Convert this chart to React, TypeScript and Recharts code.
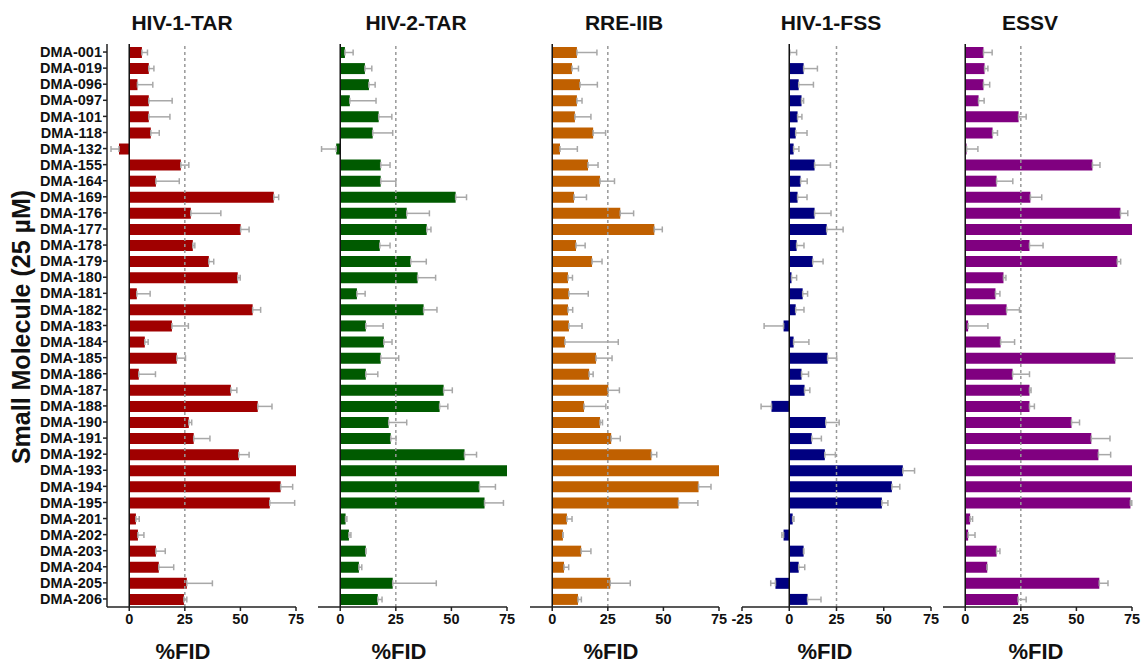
import React from 'react';
import { BarChart, Bar, XAxis, YAxis, ErrorBar, ReferenceLine } from 'recharts';

const molecules = [
  'DMA-001', 'DMA-019', 'DMA-096', 'DMA-097', 'DMA-101', 'DMA-118', 'DMA-132', 'DMA-155', 'DMA-164',
  'DMA-169', 'DMA-176', 'DMA-177', 'DMA-178', 'DMA-179', 'DMA-180', 'DMA-181', 'DMA-182', 'DMA-183',
  'DMA-184', 'DMA-185', 'DMA-186', 'DMA-187', 'DMA-188', 'DMA-190', 'DMA-191', 'DMA-192', 'DMA-193',
  'DMA-194', 'DMA-195', 'DMA-201', 'DMA-202', 'DMA-203', 'DMA-204', 'DMA-205', 'DMA-206',
];

const hiv1TarFid = [5.7, 8.8, 3.7, 8.8, 8.8, 9.7, -4.6, 23.2, 12.0, 65.0, 27.7, 50.1, 28.6, 35.8, 48.8, 3.4, 55.5, 19.2,
  7.0, 21.4, 4.3, 45.7, 57.8, 26.8, 29.0, 49.3, 77, 68.1, 63.2, 3.0, 3.9, 12.0, 13.3, 25.9, 24.6];
const hiv1TarErr = [2.5, 2.3, 6.9, 10.5, 9.5, 3.8, 3.6, 3.6, 10.5, 2.2, 13.5, 3.8, 0.9, 2.2, 1.1, 6.0, 3.6, 7.4,
  1.5, 3.9, 7.5, 2.7, 6.4, 1.3, 7.3, 4.6, 3, 5.4, 11.2, 1.5, 2.7, 4.2, 6.7, 11.5, 1.3];

const hiv2TarFid = [2.1, 11.1, 12.9, 4.3, 17.3, 14.6, -1.8, 18.2, 18.2, 51.9, 29.9, 38.9, 17.8, 31.7, 34.8, 7.5, 37.5, 11.5,
  19.6, 18.2, 11.5, 46.5, 44.7, 21.8, 22.7, 55.9, 77, 62.6, 64.9, 2.4, 3.9, 11.5, 8.4, 23.6, 16.9];
const hiv2TarErr = [3.7, 3.1, 2.8, 11.8, 5.9, 9.0, 6.6, 4.2, 6.8, 4.9, 10.2, 1.9, 4.6, 7.0, 8.1, 3.7, 6.0, 7.8,
  3.7, 8.1, 5.4, 3.9, 3.7, 8.1, 2.4, 5.4, 2, 7.2, 8.5, 0.6, 0.9, 0, 1.3, 19.6, 1.9];

const rreFid = [11.1, 8.9, 12.5, 11.1, 10.2, 18.4, 3.5, 16.1, 21.5, 9.8, 30.6, 45.9, 10.7, 17.9, 7.1, 7.5, 7.1, 7.5,
  5.7, 19.7, 16.6, 25.2, 14.3, 21.5, 26.5, 44.6, 77, 65.8, 56.8, 6.6, 4.8, 13.0, 5.3, 26.1, 11.6];
const rreErr = [9.0, 2.9, 7.8, 2.3, 7.2, 5.6, 7.8, 4.5, 6.5, 5.6, 6.0, 3.6, 4.1, 4.5, 2.0, 8.7, 2.1, 5.9,
  24.0, 7.2, 1.8, 5.0, 9.8, 1.1, 4.1, 2.4, 2, 5.6, 8.7, 2.3, 0, 4.4, 2.1, 9.0, 1.5];

const fssFid = [0.3, 7.6, 5.0, 6.5, 4.4, 3.4, 2.3, 13.4, 6.0, 4.4, 13.4, 19.8, 3.9, 12.4, 1.2, 7.1, 3.4, -3.0,
  2.3, 20.3, 6.5, 8.1, -9.4, 19.3, 11.9, 18.8, 60.1, 54.3, 49.0, 1.8, -3.0, 7.6, 5.0, -7.3, 9.7];
const fssErr = [3.6, 7.3, 7.8, 1.1, 2.3, 6.0, 2.8, 8.4, 3.5, 5.0, 8.7, 8.7, 3.9, 5.5, 2.7, 2.6, 4.4, 10.3,
  8.1, 4.8, 3.7, 2.8, 5.5, 7.1, 5.1, 5.6, 6.2, 4.2, 3.2, 0.7, 0.9, 0, 3.2, 2.5, 7.1];

const essvFid = [8.2, 8.7, 8.2, 6.0, 24.0, 12.3, 0.6, 57.2, 14.1, 29.3, 69.8, 77, 28.9, 68.4, 17.2, 13.6, 18.6, 1.3,
  15.9, 67.5, 21.3, 28.9, 28.9, 47.8, 56.7, 59.9, 77, 77, 74.3, 2.2, 1.3, 14.1, 9.9, 60.3, 23.8];
const essvErr = [3.9, 1.5, 2.8, 2.5, 3.4, 2.2, 5.1, 3.4, 7.3, 5.1, 3.3, 2, 6.1, 1.5, 1.1, 2.0, 5.8, 8.9,
  6.3, 9.0, 7.6, 0.7, 2.2, 3.6, 8.4, 5.5, 2, 2, 0.6, 1.1, 3.1, 1.5, 0, 3.9, 3.6];

const FONT = '"Liberation Sans", Arial, Helvetica, sans-serif';
const PLOT_W = 189;
const PLOT_TOP = 44;
const AXIS_Y = 607;
const H = 665;

const buildRows = (vals: number[], errs: number[]) =>
  molecules.map((name, i) => ({
    name,
    fid: vals[i],
    // one-sided error bar, drawn away from zero
    err: vals[i] >= 0 ? [0, errs[i]] : [errs[i], 0],
  }));

interface PanelProps {
  title: string;
  color: string;
  vals: number[];
  errs: number[];
  plotLeft: number;
  domain: [number, number];
  ticks: number[];
  showNames?: boolean;
  titleX: number;
  labelX: number;
}

const Panel: React.FC<PanelProps> = ({ title, color, vals, errs, plotLeft, domain, ticks, showNames, titleX, labelX }) => {
  const data = buildRows(vals, errs);
  const axisW = showNames ? 100 : 0;
  const leftPad = showNames ? 7 : 16;
  const rightPad = 14;
  const chartLeft = plotLeft - axisW - leftPad;
  const chartW = leftPad + axisW + PLOT_W + rightPad;
  const r = leftPad + axisW + PLOT_W + 1;
  // hide anything that overflows past 75 (bars / error bars), keep tick labels
  const clip = `polygon(0 0, ${r}px 0, ${r}px ${AXIS_Y - 1}px, ${chartW}px ${AXIS_Y - 1}px, ${chartW}px ${H}px, 0 ${H}px)`;

  return (
    <>
      <div style={{ position: 'absolute', left: titleX - 100, top: 10, width: 200, textAlign: 'center',
        fontFamily: FONT, fontWeight: 'bold', fontSize: 21, lineHeight: '26px', color: '#111' }}>
        {title}
      </div>
      <div style={{ position: 'absolute', left: chartLeft, top: 0, clipPath: clip }}>
        <BarChart
          width={chartW}
          height={H}
          data={data}
          layout="vertical"
          margin={{ top: PLOT_TOP, right: rightPad, bottom: 0, left: leftPad }}
        >
          <XAxis
            type="number"
            domain={domain}
            ticks={ticks}
            interval={0}
            allowDataOverflow
            height={H - AXIS_Y}
            tickSize={4}
            tickMargin={3}
            stroke="#222"
            strokeWidth={1.5}
            tick={{ fontFamily: FONT, fontWeight: 'bold', fontSize: 14.5, fill: '#111' }}
          />
          <YAxis
            type="category"
            dataKey="name"
            width={axisW}
            stroke="#222"
            strokeWidth={1.5}
            interval={0}
            tickSize={showNames ? 4 : 0}
            tickMargin={1}
            tick={showNames ? { fontFamily: FONT, fontWeight: 'bold', fontSize: 14.5, fill: '#111' } : false}
          />
          <ReferenceLine x={25} stroke="#999" strokeWidth={1.5} strokeDasharray="3 3" />
          <Bar dataKey="fid" fill={color} barSize={11} isAnimationActive={false}>
            <ErrorBar dataKey="err" direction="x" width={3} stroke="#a8a8a8" strokeWidth={1.5} />
          </Bar>
          <ReferenceLine x={0} stroke="#111" strokeWidth={1.5} />
        </BarChart>
      </div>
      <div style={{ position: 'absolute', left: labelX - 100, top: 638, width: 200, textAlign: 'center',
        fontFamily: FONT, fontWeight: 'bold', fontSize: 22, lineHeight: '28px', color: '#111' }}>
        %FID
      </div>
    </>
  );
};

export default function App() {
  return (
    <div style={{ position: 'absolute', left: 0, top: 0, width: 1142, height: H, background: '#fff', overflow: 'hidden' }}>
      <div style={{ position: 'absolute', left: 21 - 170, top: 327 - 16, width: 340, height: 32, textAlign: 'center',
        transform: 'rotate(-90deg)', fontFamily: FONT, fontWeight: 'bold', fontSize: 25, lineHeight: '32px', color: '#111' }}>
        Small Molecule (25 µM)
      </div>
      <Panel title="HIV-1-TAR" color="#a00000" vals={hiv1TarFid} errs={hiv1TarErr} plotLeft={107}
        domain={[-10, 75]} ticks={[0, 25, 50, 75]} showNames titleX={182} labelX={183} />
      <Panel title="HIV-2-TAR" color="#005a00" vals={hiv2TarFid} errs={hiv2TarErr} plotLeft={318}
        domain={[-10, 75]} ticks={[0, 25, 50, 75]} titleX={416} labelX={399} />
      <Panel title="RRE-IIB" color="#c06000" vals={rreFid} errs={rreErr} plotLeft={530}
        domain={[-10, 75]} ticks={[0, 25, 50, 75]} titleX={624} labelX={611} />
      <Panel title="HIV-1-FSS" color="#000080" vals={fssFid} errs={fssErr} plotLeft={742}
        domain={[-25, 75]} ticks={[-25, 0, 25, 50, 75]} titleX={831} labelX={825} />
      <Panel title="ESSV" color="#800080" vals={essvFid} errs={essvErr} plotLeft={943}
        domain={[-10, 75]} ticks={[0, 25, 50, 75]} titleX={1030} labelX={1036} />
    </div>
  );
}
